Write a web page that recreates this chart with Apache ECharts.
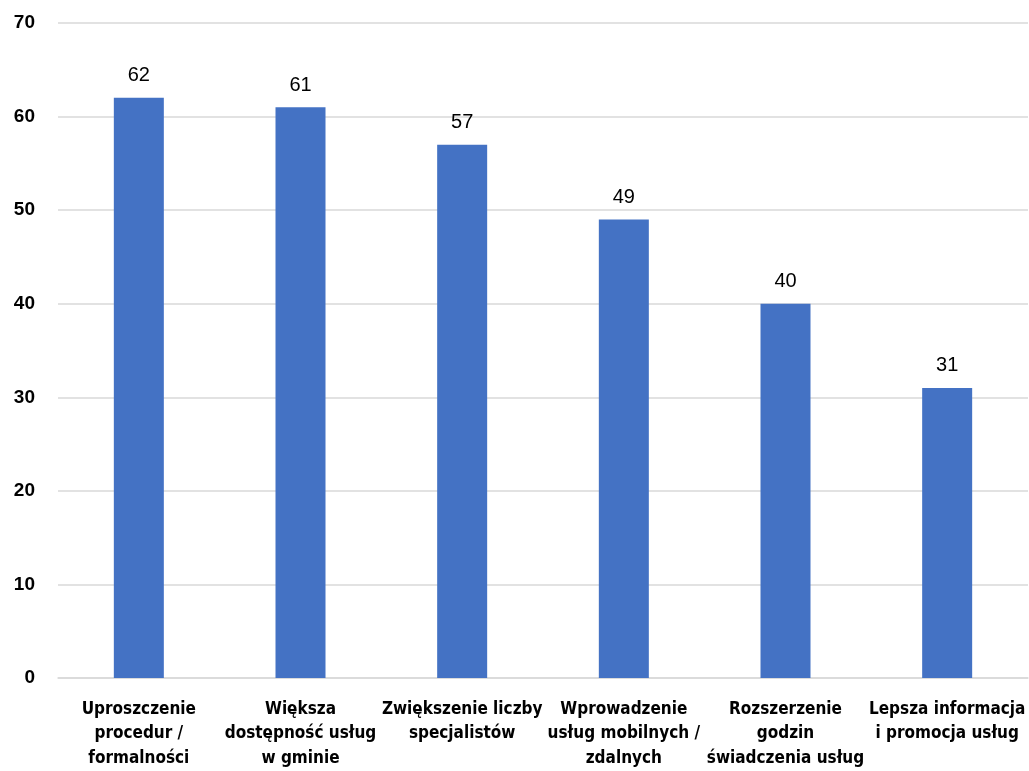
<!DOCTYPE html>
<html><head><meta charset="utf-8">
<script src="https://cdn.jsdelivr.net/npm/echarts@6/dist/echarts.min.js"></script>
<style>html,body{margin:0;padding:0;background:#fff}#c{width:1029px;height:771px}</style>
</head><body><div id="c"></div>
<script>
const categories = [
  "Uproszczenie\nprocedur /\nformalności",
  "Większa\ndostępność usług\nw gminie",
  "Zwiększenie liczby\nspecjalistów",
  "Wprowadzenie\nusług mobilnych /\nzdalnych",
  "Rozszerzenie\ngodzin\nświadczenia usług",
  "Lepsza informacja\ni promocja usług"
];
const values = [62, 61, 57, 49, 40, 31];
const yTicks = {min: 0, max: 70, interval: 10};

const chart = echarts.init(document.getElementById('c'));
chart.setOption({
  animation: false,
  grid: {left: 58, right: 1, top: 23, bottom: 93, containLabel: false},
  xAxis: {
    type: 'category', data: categories,
    axisTick: {show: false},
    axisLine: {lineStyle: {color: '#d9d9d9', width: 1.5}},
    axisLabel: {interval: 0, margin: 19, color: '#000', fontFamily: '"DejaVu Sans Condensed", "DejaVu Sans", sans-serif', fontWeight: 'bold', fontSize: 17, lineHeight: 24.5}
  },
  yAxis: {
    type: 'value', min: yTicks.min, max: yTicks.max, interval: yTicks.interval,
    axisLine: {show: false}, axisTick: {show: false},
    splitLine: {lineStyle: {color: '#d9d9d9', width: 1.5}},
    axisLabel: {margin: 23, color: '#000', fontFamily: 'Liberation Sans', fontWeight: 'bold', fontSize: 19}
  },
  series: [{
    type: 'bar', data: values, barWidth: 50,
    itemStyle: {color: '#4472C4'},
    label: {show: true, position: 'top', distance: 12, color: '#000', fontFamily: 'Liberation Sans', fontSize: 20}
  }]
});
</script></body></html>
